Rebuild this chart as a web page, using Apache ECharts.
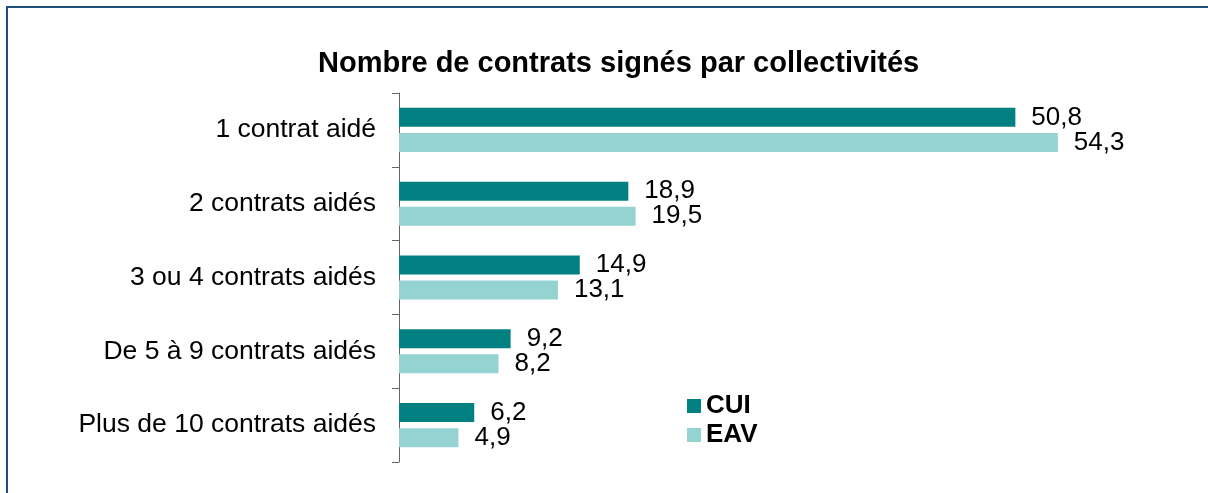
<!DOCTYPE html>
<html>
<head>
<meta charset="utf-8">
<script src="https://cdn.jsdelivr.net/npm/echarts@6/dist/echarts.min.js"></script>
<style>
html,body{margin:0;padding:0;background:#fff;}
#c{width:1208px;height:493px;}
</style>
</head>
<body>
<div id="c"></div>
<script>
const categories = ["1 contrat aidé", "2 contrats aidés", "3 ou 4 contrats aidés", "De 5 à 9 contrats aidés", "Plus de 10 contrats aidés"];
const cuiValues = [50.8, 18.9, 14.9, 9.2, 6.2];
const eavValues = [54.3, 19.5, 13.1, 8.2, 4.9];
const seriesNames = ["CUI", "EAV"];

const chart = echarts.init(document.getElementById('c'), null, {renderer: 'canvas'});
const fmt = p => String(p.value).replace('.', ',');
const font = '"Liberation Sans", Arial, sans-serif';
chart.setOption({
  animation: false,
  textStyle: {fontFamily: font},
  title: {
    text: 'Nombre de contrats signés par collectivités',
    left: 313,
    top: 44,
    textStyle: {fontSize: 29, fontWeight: 'bold', color: '#000', fontFamily: font}
  },
  graphic: [
    {type: 'rect', shape: {x: 6, y: 6, width: 1202, height: 2}, style: {fill: '#1F4E79'}},
    {type: 'rect', shape: {x: 6, y: 6, width: 2, height: 487}, style: {fill: '#1F4E79'}}
  ],
  legend: {
    orient: 'vertical',
    left: 687,
    top: 393,
    padding: 0,
    itemWidth: 14,
    itemHeight: 14,
    itemGap: 3,
    icon: 'rect',
    textStyle: {fontSize: 26, fontWeight: 'bold', color: '#000', fontFamily: font},
    data: seriesNames
  },
  grid: {left: 399, right: 81, top: 93, bottom: 31, containLabel: false},
  xAxis: {
    type: 'value', min: 0, max: 60, show: false
  },
  yAxis: {
    type: 'category',
    inverse: true,
    data: categories,
    axisLine: {show: true, lineStyle: {color: '#666', width: 1}},
    axisTick: {show: true, length: 7, lineStyle: {color: '#666'}},
    axisLabel: {fontSize: 26.5, color: '#000', margin: 23, fontFamily: font}
  },
  series: [
    {
      name: seriesNames[0], type: 'bar', data: cuiValues,
      barWidth: 19, barGap: '32%', barCategoryGap: '40%',
      itemStyle: {color: '#008080'},
      label: {show: true, position: 'right', distance: 16, fontSize: 26, color: '#000', formatter: fmt, fontFamily: font}
    },
    {
      name: seriesNames[1], type: 'bar', data: eavValues,
      barWidth: 19, barGap: '32%', barCategoryGap: '40%',
      itemStyle: {color: '#95D3D2'},
      label: {show: true, position: 'right', distance: 16, fontSize: 26, color: '#000', formatter: fmt, fontFamily: font}
    }
  ]
});
</script>
</body>
</html>
